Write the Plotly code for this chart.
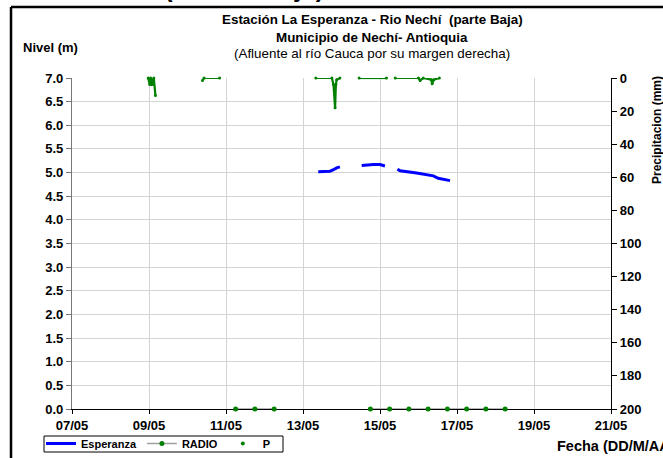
import plotly.graph_objects as go

# ---------------- data ----------------
esp_time = ["2019-05-13 09:30", "2019-05-13 13:00", "2019-05-13 16:50", "2019-05-13 19:00",
            "2019-05-13 21:00", "2019-05-13 23:00", None,
            "2019-05-14 12:35", "2019-05-14 15:40", "2019-05-14 19:50", "2019-05-15 00:00",
            "2019-05-15 03:05", None,
            "2019-05-15 10:50", "2019-05-15 12:30", "2019-05-15 22:50", "2019-05-16 09:15",
            "2019-05-16 12:20", "2019-05-16 19:40"]
esp_level = [5.02, 5.02, 5.03, 5.06, 5.10, 5.12, None,
             5.15, 5.16, 5.17, 5.17, 5.14, None,
             5.07, 5.04, 4.99, 4.93, 4.88, 4.83]

radio_time = ["2019-05-11 06:00", "2019-05-11 18:00", "2019-05-12 06:00", None,
              "2019-05-14 18:00", "2019-05-15 06:00", "2019-05-15 18:00", "2019-05-16 06:00",
              "2019-05-16 18:00", "2019-05-17 06:00", "2019-05-17 18:00", "2019-05-18 06:00"]
radio_level = [0, 0, 0, None, 0, 0, 0, 0, 0, 0, 0, 0]

p_time = ["2019-05-08 23:30", "2019-05-09 00:30", "2019-05-09 01:00", "2019-05-09 01:30",
          "2019-05-09 02:00", "2019-05-09 02:30", "2019-05-09 03:00", "2019-05-09 04:00", None,
          "2019-05-10 09:20", "2019-05-10 10:20", "2019-05-10 20:00", None,
          "2019-05-13 08:00", "2019-05-13 18:00", "2019-05-13 19:00", "2019-05-13 20:00",
          "2019-05-13 20:30", "2019-05-13 21:00", "2019-05-13 23:00", None,
          "2019-05-14 11:00", "2019-05-15 04:00", None,
          "2019-05-15 09:30", "2019-05-16 00:00", "2019-05-16 01:00", "2019-05-16 03:00",
          "2019-05-16 08:00", "2019-05-16 08:30", "2019-05-16 09:30", "2019-05-16 13:00"]
p_mm = [0, 4, 0, 4, 1, 4, 0, 10.5, None,
        1.5, 0, 0, None,
        0, 0, 4, 18, 4, 1, 0, None,
        0, 0, None,
        0, 0, 1.5, 0, 1, 3.5, 1, 0]

x_range = ["2019-05-07", "2019-05-21"]
title_lines = ["Estación La Esperanza - Rio Nechí  (parte Baja)",
               "Municipio de Nechí- Antioquia",
               "(Afluente al río Cauca por su margen derecha)"]

FONT = "Liberation Sans, Arial, sans-serif"
GREEN = "#008000"

fig = go.Figure()
fig.add_trace(go.Scatter(x=esp_time, y=esp_level, name="Esperanza", mode="lines",
                         line=dict(color="#0000ff", width=3), yaxis="y"))
fig.add_trace(go.Scatter(x=radio_time, y=radio_level, name="RADIO", mode="lines+markers",
                         line=dict(color="#a0a0a0", width=1.5),
                         marker=dict(color=GREEN, size=5), cliponaxis=False, yaxis="y"))
fig.add_trace(go.Scatter(x=p_time, y=p_mm, name="P", mode="lines+markers",
                         line=dict(color=GREEN, width=2.2), marker=dict(color=GREEN, size=3),
                         cliponaxis=False, showlegend=False, yaxis="y2"))
fig.add_trace(go.Scatter(x=[None], y=[None], name="P", mode="markers",
                         marker=dict(color=GREEN, size=4), yaxis="y2"))

L, R, T, B = 72, 52, 78, 49
W, H = 663, 458
pw, ph = W - L - R, H - T - B


def px(x):
    return (x - L) / pw


def py(y):
    return 1 - (y - T) / ph


ann = []
for i, (txt, yy) in enumerate(zip(title_lines, [20, 37, 53])):
    ann.append(dict(text=txt, x=px(372), y=py(yy), xref="paper", yref="paper",
                    xanchor="center", yanchor="middle", showarrow=False,
                    font=dict(family=FONT, size=13.4, color="black",
                              weight="bold" if i < 2 else "normal")))
ann.append(dict(text="Nivel (m)", x=px(50), y=py(47), xref="paper", yref="paper",
                xanchor="center", yanchor="middle", showarrow=False,
                font=dict(family=FONT, size=13, color="black", weight="bold")))
ann.append(dict(text="Precipitacion (mm)", x=px(657), y=py(130), xref="paper", yref="paper",
                xanchor="center", yanchor="middle", showarrow=False, textangle=-90,
                font=dict(family=FONT, size=12, color="black", weight="bold")))
ann.append(dict(text="Fecha (DD/M/AA)", x=px(555), y=py(446), xref="paper", yref="paper",
                xanchor="left", yanchor="middle", showarrow=False,
                font=dict(family=FONT, size=14.5, color="black", weight="bold")))
ann.append(dict(text="Río Nechí (cuenca baja)", x=px(40), y=py(4), xref="paper", yref="paper",
                xanchor="left", yanchor="bottom", showarrow=False,
                font=dict(family=FONT, size=25, color="black", weight="bold")))

shapes = [
    dict(type="line", xref="paper", yref="paper", x0=px(11), x1=px(11), y0=py(470), y1=py(7),
         line=dict(color="black", width=2.5)),
    dict(type="line", xref="paper", yref="paper", x0=px(11), x1=px(700), y0=py(7), y1=py(7),
         line=dict(color="black", width=2.5)),
    dict(type="rect", xref="paper", yref="paper", x0=px(44), x1=px(283), y0=py(452),
         y1=py(436), line=dict(color="black", width=1), fillcolor="rgba(0,0,0,0)"),
]

fig.update_layout(
    width=W, height=H, autosize=False,
    margin=dict(l=L, r=R, t=T, b=B, pad=0, autoexpand=False),
    paper_bgcolor="white", plot_bgcolor="white",
    font=dict(family=FONT, size=13, color="black"),
    showlegend=True,
    legend=dict(orientation="h", x=px(41), y=py(429), xanchor="left", yanchor="top",
                borderwidth=0, bgcolor="rgba(0,0,0,0)",
                font=dict(family=FONT, size=11, color="black", weight="bold"),
                itemwidth=30, tracegroupgap=0),
    xaxis=dict(type="date", range=x_range, tick0="2019-05-07", dtick=2 * 86400000,
               tickformat="%d/%m", showgrid=True, gridcolor="#d4d4d4", gridwidth=1.3,
               showline=True, linecolor="black", linewidth=1.3, ticks="outside",
               ticklen=4, tickcolor="black", layer="below traces", zeroline=False,
               tickfont=dict(family=FONT, size=13, color="black", weight="bold")),
    yaxis=dict(range=[0, 7], dtick=0.5, tickformat=".1f", showgrid=True,
               gridcolor="#d4d4d4", gridwidth=1.3, showline=True, linecolor="#777777",
               linewidth=1.3, ticks="outside", ticklen=5, tickcolor="#777777",
               zeroline=False, layer="below traces",
               tickfont=dict(family=FONT, size=13, color="black", weight="bold")),
    yaxis2=dict(range=[200, 0], dtick=20, overlaying="y", side="right", showgrid=False,
                showline=True, linecolor="black", linewidth=1.3, ticks="outside",
                ticklen=5, tickcolor="black", zeroline=False,
                tickfont=dict(family=FONT, size=13, color="black", weight="bold")),
    annotations=ann, shapes=shapes,
)

fig.write_html("out.html", config={"displayModeBar": False},
               post_script="document.body.style.margin='0';")
